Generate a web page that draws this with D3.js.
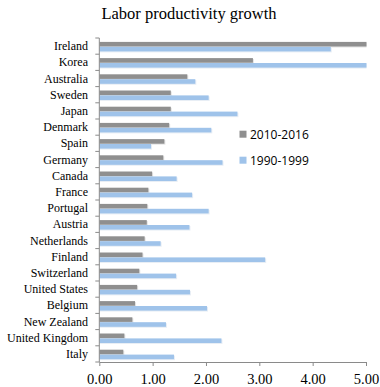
<!DOCTYPE html>
<html>
<head>
<meta charset="utf-8">
<script src="https://cdn.jsdelivr.net/npm/d3@7"></script>
<style>
  body { margin: 0; background: #fff; }
</style>
</head>
<body>
<script>
// data
const countries = ["Ireland", "Korea", "Australia", "Sweden", "Japan", "Denmark", "Spain",
  "Germany", "Canada", "France", "Portugal", "Austria", "Netherlands", "Finland",
  "Switzerland", "United States", "Belgium", "New Zealand", "United Kingdom", "Italy"];
const recent = [5.6, 2.88, 1.65, 1.34, 1.34, 1.31, 1.22, 1.20, 0.99, 0.92, 0.90, 0.89,
  0.85, 0.81, 0.75, 0.71, 0.67, 0.62, 0.47, 0.45];
const nineties = [4.34, 5.4, 1.80, 2.05, 2.59, 2.10, 0.97, 2.31, 1.45, 1.74, 2.05, 1.69,
  1.15, 3.11, 1.44, 1.70, 2.02, 1.25, 2.29, 1.40];
const seriesNames = ["2010-2016", "1990-1999"];
const xTicks = [0, 1, 2, 3, 4, 5];

const width = 380, height = 387;
const plotLeft = 99.3, plotRight = 366, plotTop = 38, plotBottom = 362;
const grey = "#8f8f8f", blue = "#9fc3ea";

const svg = d3.select("body").append("svg")
  .attr("width", width)
  .attr("height", height);

const x = d3.scaleLinear().domain([0, 5]).range([plotLeft, plotRight]);
const y = d3.scaleBand().domain(countries).range([plotTop, plotBottom]);

// 棒がはみ出さないようにクリップ
svg.append("clipPath").attr("id", "plot")
  .append("rect").attr("x", plotLeft).attr("y", plotTop)
  .attr("width", plotRight - plotLeft + 0.5).attr("height", plotBottom - plotTop);

svg.append("text")
  .attr("x", 189).attr("y", 19)
  .attr("text-anchor", "middle")
  .attr("font-family", "Liberation Serif")
  .attr("font-size", 16.5)
  .text("Labor productivity growth");

const rows = countries.map((c, i) => ({ c, a: recent[i], b: nineties[i] }));
const bh = 4.6;
const g = svg.append("g").attr("clip-path", "url(#plot)");

// shadow
g.selectAll(".shA").data(rows).enter().append("rect")
  .attr("x", x(0)).attr("y", d => y(d.c) + 3.9 + 1)
  .attr("width", d => x(d.a) - x(0) + 1).attr("height", bh)
  .attr("fill", "#e4e4e4");
g.selectAll(".shB").data(rows).enter().append("rect")
  .attr("x", x(0)).attr("y", d => y(d.c) + 3.9 + bh + 0.3 + 1)
  .attr("width", d => x(d.b) - x(0) + 1).attr("height", bh)
  .attr("fill", "#e8eef5");

g.selectAll(".barA").data(rows).enter().append("rect")
  .attr("class", "barA")
  .attr("x", x(0)).attr("y", d => y(d.c) + 3.9)
  .attr("width", d => x(d.a) - x(0)).attr("height", bh)
  .attr("fill", grey);
g.selectAll(".barB").data(rows).enter().append("rect")
  .attr("class", "barB")
  .attr("x", x(0)).attr("y", d => y(d.c) + 3.9 + bh + 0.3)
  .attr("width", d => x(d.b) - x(0)).attr("height", bh)
  .attr("fill", blue);

// y axis: line + ticks at band boundaries
const axisColor = "#8a8a8a";
svg.append("line")
  .attr("x1", plotLeft).attr("x2", plotLeft).attr("y1", plotTop).attr("y2", plotBottom)
  .attr("stroke", axisColor).attr("stroke-width", 1);
svg.selectAll(".ytick").data(countries.concat(["_end"])).enter().append("line")
  .attr("x1", plotLeft - 4).attr("x2", plotLeft)
  .attr("y1", (d, i) => plotTop + i * y.step()).attr("y2", (d, i) => plotTop + i * y.step())
  .attr("stroke", axisColor);
svg.selectAll(".ylab").data(countries).enter().append("text")
  .attr("x", 88).attr("y", d => y(d) + y.bandwidth() / 2 + 4)
  .attr("text-anchor", "end")
  .attr("font-family", "Liberation Serif")
  .attr("font-size", 12)
  .text(d => d);

// x axis
const xAxis = svg.append("g")
  .attr("transform", `translate(0,${plotBottom})`)
  .call(d3.axisBottom(x).tickValues(xTicks).tickFormat(d3.format(".2f")).tickSize(4).tickSizeOuter(0));
xAxis.select(".domain").attr("stroke", axisColor);
xAxis.selectAll(".tick line").attr("stroke", axisColor);
xAxis.selectAll(".tick text")
  .attr("font-family", "Liberation Serif")
  .attr("font-size", 14.5)
  .attr("fill", "#000")
  .attr("dy", null)
  .attr("y", 21.5);

// legend
const legend = svg.append("g");
[grey, blue].forEach((col, i) => {
  legend.append("rect")
    .attr("x", 239.5).attr("y", 130.7 + i * 26)
    .attr("width", 7).attr("height", 7)
    .attr("fill", col);
  legend.append("text")
    .attr("x", 250).attr("y", 138.5 + i * 26)
    .attr("font-family", "Open Sans")
    .attr("font-size", 12)
    .text(seriesNames[i]);
});
</script>
</body>
</html>
